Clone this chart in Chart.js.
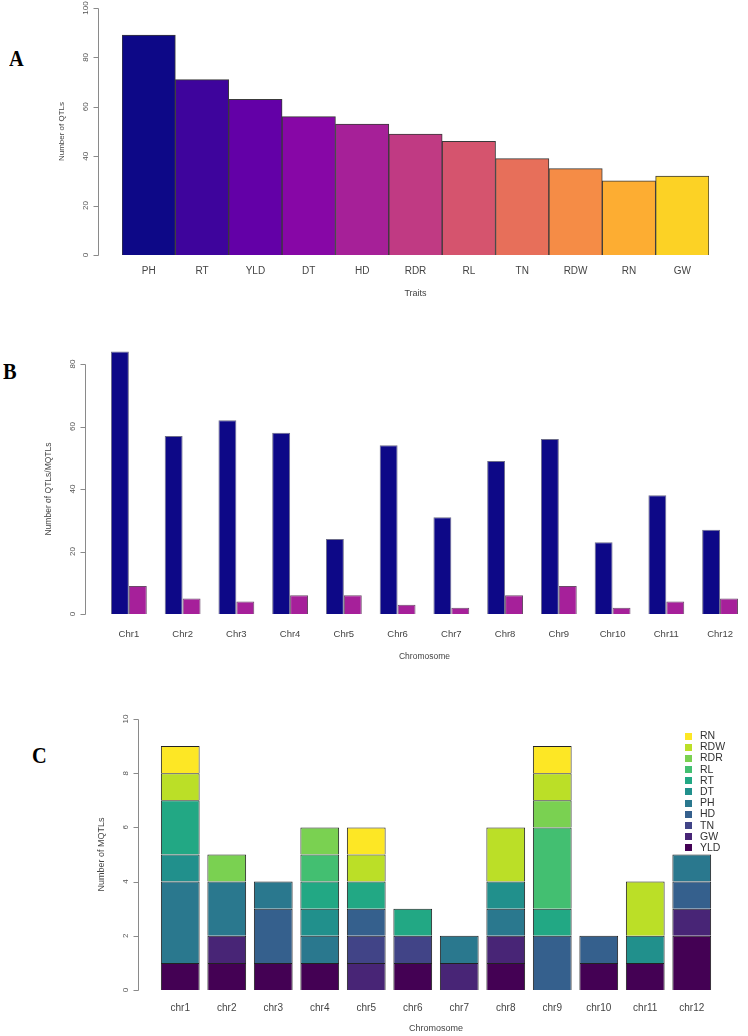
<!DOCTYPE html>
<html>
<head>
<meta charset="utf-8">
<script src="https://cdn.jsdelivr.net/npm/chart.js@4/dist/chart.umd.min.js"></script>
<style>
  body { margin:0; background:#fff; width:748px; height:1036px; position:relative; overflow:hidden; font-family:'Liberation Sans',Arial,sans-serif; }
  canvas { position:absolute; left:0; }
  .panel { position:absolute; font-family:'Liberation Serif','Times New Roman',serif; font-weight:bold; font-size:24px; line-height:24px; transform:scaleX(0.85); transform-origin:left center; color:#000; }
  #legendC { position:absolute; left:685px; top:730px; font-size:10.5px; color:#333; }
  #legendC div { height:11.2px; line-height:11.2px; white-space:nowrap; }
  #legendC span { display:inline-block; width:7px; height:7px; margin-right:8px; vertical-align:-0.5px; }
</style>
</head>
<body>
<div class="panel" style="left:9px;top:46px">A</div>
<div class="panel" style="left:3px;top:359px">B</div>
<div class="panel" style="left:32px;top:743px">C</div>
<canvas id="chartA" width="748" height="299" style="top:0"></canvas>
<canvas id="chartB" width="748" height="362" style="top:300px"></canvas>
<canvas id="chartC" width="748" height="374" style="top:662px"></canvas>
<div id="legendC"></div>
<script>
// ── Data ─────────────────────────────────────
const traitsA = ['PH','RT','YLD','DT','HD','RDR','RL','TN','RDW','RN','GW'];
const qtlCountA = [89,71,63,56,53,49,46,39,35,30,32];
const yTicksA = [0,20,40,60,80,100];

const chrB = ['Chr1','Chr2','Chr3','Chr4','Chr5','Chr6','Chr7','Chr8','Chr9','Chr10','Chr11','Chr12'];
const qtlB = [84,57,62,58,24,54,31,49,56,23,38,27];
const mqtlB = [9,5,4,6,6,3,2,6,9,2,4,5];
const yTicksB = [0,20,40,60,80];

const chrC = ['chr1','chr2','chr3','chr4','chr5','chr6','chr7','chr8','chr9','chr10','chr11','chr12'];
const traitsC = ['YLD','GW','TN','HD','PH','DT','RT','RL','RDR','RDW','RN'];
const mqtlYLD = [1,1,1,1,0,1,0,1,0,1,1,2];
const mqtlGW  = [0,1,0,0,1,0,1,1,0,0,0,1];
const mqtlTN  = [0,0,0,0,1,1,0,0,0,0,0,0];
const mqtlHD  = [0,0,2,0,1,0,0,0,2,1,0,1];
const mqtlPH  = [3,2,1,1,0,0,1,1,0,0,0,1];
const mqtlDT  = [1,0,0,1,0,0,0,1,0,0,1,0];
const mqtlRT  = [2,0,0,1,1,1,0,0,1,0,0,0];
const mqtlRL  = [0,0,0,1,0,0,0,0,3,0,0,0];
const mqtlRDR = [0,1,0,1,0,0,0,0,1,0,0,0];
const mqtlRDW = [1,0,0,0,1,0,0,2,1,0,2,0];
const mqtlRN  = [1,0,0,0,1,0,0,0,1,0,0,0];
const yTicksC = [0,2,4,6,8,10];

// ── Palettes ─────────────────────────────────
const plasma11 = ['#0D0887','#3E049C','#6300A7','#8707A6','#A62098','#C03A83','#D5546E','#E76F5A','#F58C46','#FDAD32','#FCD225'];
const viridis11 = ['#440154','#482576','#414487','#35608D','#2A788E','#21908C','#22A884','#43BF71','#7AD151','#BBDF27','#FDE725'];

// ── R-style y axis ───────────────────────────
const rAxis = {
  id:'rAxis',
  afterDraw(chart, args, o){
    const {ctx, chartArea, scales:{y}} = chart;
    const x = Math.round(chartArea.left - o.gap) + 0.5;
    const t = o.ticks;
    const top = y.getPixelForValue(t[t.length-1]), bot = y.getPixelForValue(t[0]);
    ctx.save();
    ctx.strokeStyle = '#8a8a8a'; ctx.lineWidth = 1;
    ctx.beginPath();
    ctx.moveTo(x, Math.round(top)+0.5); ctx.lineTo(x, Math.round(bot)+0.5);
    t.forEach(v => { const py = Math.round(y.getPixelForValue(v))+0.5; ctx.moveTo(x, py); ctx.lineTo(x-5, py); });
    ctx.stroke();
    ctx.fillStyle = '#555';
    ctx.font = '8px "Liberation Sans", Arial';
    ctx.textAlign = 'center'; ctx.textBaseline = 'alphabetic';
    t.forEach(v => {
      ctx.save(); ctx.translate(x-11, y.getPixelForValue(v)); ctx.rotate(-Math.PI/2);
      ctx.fillText(String(v), 0, 0); ctx.restore();
    });
    ctx.font = o.titleSize + 'px "Liberation Sans", Arial';
    ctx.fillStyle = '#444'; ctx.textBaseline = 'middle';
    ctx.save(); ctx.translate(x-37, (top+bot)/2); ctx.rotate(-Math.PI/2);
    ctx.fillText(o.title, 0, 0); ctx.restore();
    ctx.restore();
  }
};

function xScale(pad, h, title, family, size){
  return {
    grid:{display:false, drawTicks:false}, border:{display:false},
    ticks:{padding:pad, color:'#444', font:{family, size}},
    title:{display:true, text:title, color:'#444', padding:0, font:{family, size:size-1}},
    afterFit: s => { s.height = h; }
  };
}
const narrow = "'Liberation Sans Narrow','Liberation Sans',Arial";
const sans = "'Liberation Sans',Arial";
const base = {responsive:false, animation:false, devicePixelRatio:1, plugins:{legend:{display:false}, tooltip:{enabled:false}}};

// ── A: QTLs per trait ────────────────────────
new Chart(document.getElementById('chartA'), {
  type:'bar',
  data:{labels:traitsA, datasets:[{data:qtlCountA, backgroundColor:plasma11, borderColor:'#3a3a3a', borderWidth:1, barPercentage:1, categoryPercentage:1}]},
  options:{...base,
    layout:{padding:{left:122, right:39, top:8, bottom:0}},
    scales:{x:xScale(10, 44, 'Traits', narrow, 10), y:{display:false, min:0, max:100}},
    plugins:{...base.plugins, rAxis:{gap:24, ticks:yTicksA, title:'Number of QTLs', titleSize:8}}},
  plugins:[rAxis]
});

// ── B: QTLs / MQTLs per chromosome ───────────
new Chart(document.getElementById('chartB'), {
  type:'bar',
  data:{labels:chrB, datasets:[
    {data:qtlB, backgroundColor:'#0D0887', borderColor:'#6d6d8a', borderWidth:1, barPercentage:1, categoryPercentage:2/3},
    {data:mqtlB, backgroundColor:'#A6209A', borderColor:'#6a4a68', borderWidth:1, barPercentage:1, categoryPercentage:2/3}
  ]},
  options:{...base,
    layout:{padding:{left:102, right:0, top:39, bottom:0}},
    scales:{x:xScale(15, 48, 'Chromosome', sans, 9.5), y:{display:false, min:0, max:88}},
    plugins:{...base.plugins, rAxis:{gap:17, ticks:yTicksB, title:'Number of QTLs/MQTLs', titleSize:8.5}}},
  plugins:[rAxis]
});

// ── C: MQTLs per chromosome by trait ─────────
const seriesC = [mqtlYLD, mqtlGW, mqtlTN, mqtlHD, mqtlPH, mqtlDT, mqtlRT, mqtlRL, mqtlRDR, mqtlRDW, mqtlRN];
new Chart(document.getElementById('chartC'), {
  type:'bar',
  data:{labels:chrC, datasets:seriesC.map((d,i)=>({
    label:traitsC[i], data:d, backgroundColor:viridis11[i], borderColor:'#222', borderWidth:1,
    barPercentage:1/1.2, categoryPercentage:1
  }))},
  options:{...base,
    layout:{padding:{left:157, right:33, top:57, bottom:2}},
    scales:{x:{...xScale(12, 44, 'Chromosome', narrow, 10), stacked:true}, y:{display:false, stacked:true, min:0, max:10}},
    plugins:{...base.plugins, rAxis:{gap:19, ticks:yTicksC, title:'Number of MQTLs', titleSize:9}}},
  plugins:[rAxis]
});

// legend, top to bottom = last to first series
const lg = document.getElementById('legendC');
traitsC.slice().reverse().forEach((t,k) => {
  const i = traitsC.length-1-k;
  const row = document.createElement('div');
  row.innerHTML = `<span style="background:${viridis11[i]}"></span>${t}`;
  lg.appendChild(row);
});
</script>
</body>
</html>
